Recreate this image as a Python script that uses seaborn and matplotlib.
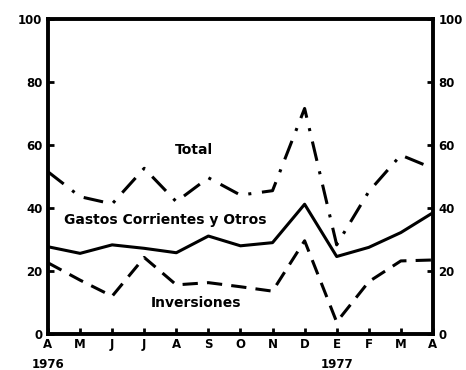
import matplotlib
matplotlib.use("Agg")
import matplotlib.pyplot as plt
import seaborn as sns
import pandas as pd
import numpy as np

months = ["A", "M", "J", "J", "A", "S", "O", "N", "D", "E", "F", "M", "A"]
total = [51.5, 43.6, 41.3, 52.6, 42.0, 49.6, 44.1, 45.5, 71.6, 28.3, 45.2, 56.8, 52.6]
gastos = [27.7, 25.6, 28.3, 27.2, 25.8, 31.1, 28.0, 29.0, 41.2, 24.6, 27.5, 32.2, 38.5]
inversiones = [22.6, 17.1, 12.0, 24.3, 15.6, 16.3, 15.0, 13.6, 29.6, 3.8, 16.6, 23.2, 23.5]
y_ticks = [0, 20, 40, 60, 80, 100]

sns.set_theme(style="white")
plt.rcParams["font.family"] = ["DejaVu Sans"]
plt.rcParams["text.color"] = "black"
plt.rcParams["xtick.color"] = "black"
plt.rcParams["ytick.color"] = "black"

x = np.arange(len(months))
df = pd.DataFrame({
    "mes": np.tile(x, 3),
    "valor": total + gastos + inversiones,
    "serie": ["Total"] * len(x) + ["Gastos"] * len(x) + ["Inversiones"] * len(x),
})

fig = plt.figure(figsize=(4.66, 3.70), dpi=100)
ax = fig.add_axes([0.103, 0.0973, 0.826, 0.8513])

sns.lineplot(
    data=df, x="mes", y="valor", style="serie", color="black",
    dashes={"Total": (6.5, 3.5, 1, 3.5), "Gastos": "", "Inversiones": (5, 3)},
    linewidth=2.2, legend=False, ax=ax,
)

ax.set_xlim(0, len(months) - 1)
ax.set_ylim(0, 100)
ax.set_xlabel("")
ax.set_ylabel("")
ax.set_xticks(x)
ax.set_xticklabels(months, fontsize=8.5, fontweight="bold")
ax.set_yticks(y_ticks)
ax.set_yticklabels([str(v) for v in y_ticks], fontsize=8.5, fontweight="bold")
ax.tick_params(axis="both", direction="in", length=4, width=2, color="black",
               labelcolor="black", pad=4)
ax.tick_params(axis="y", which="both", left=True, right=True, labelleft=True, labelright=True)
ax.tick_params(axis="x", bottom=True, top=False, pad=3)

for s in ax.spines.values():
    s.set_visible(True)
    s.set_color("black")
    s.set_linewidth(2.8)

# series labels
ax.text(4.55, 58.5, "Total", ha="center", va="center", fontsize=10, fontweight="bold", color="black")
ax.text(3.66, 36.2, "Gastos Corrientes y Otros", ha="center", va="center", fontsize=10,
        fontweight="bold", color="black")
ax.text(4.6, 9.8, "Inversiones", ha="center", va="center", fontsize=10, fontweight="bold", color="black")

# year labels under the months
ax.text(0, -9.6, "1976", ha="center", va="center", fontsize=8.5, fontweight="bold",
        color="black", clip_on=False)
ax.text(9, -9.6, "1977", ha="center", va="center", fontsize=8.5, fontweight="bold",
        color="black", clip_on=False)

fig.savefig("out.png", dpi=100)
